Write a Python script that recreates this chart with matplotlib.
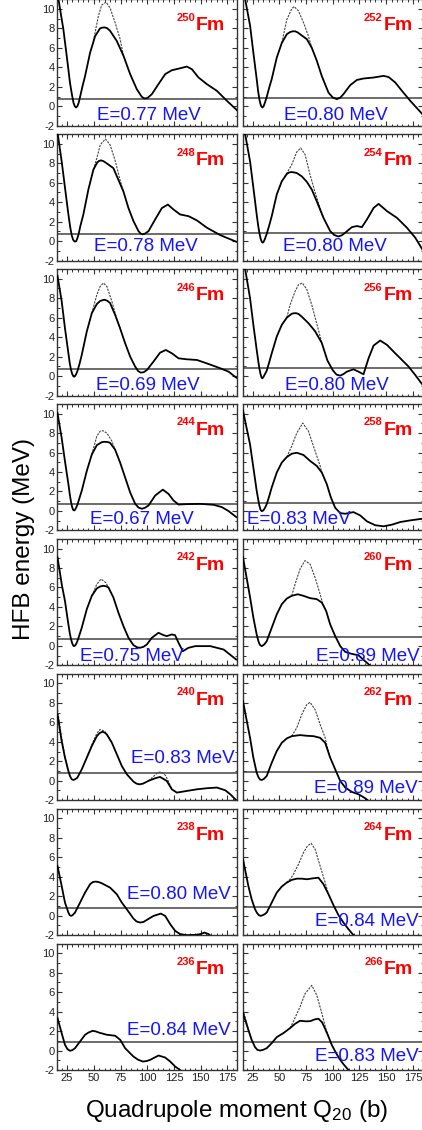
import matplotlib
matplotlib.use('Agg')
import matplotlib.pyplot as plt
from matplotlib.ticker import MultipleLocator

plt.rcParams['font.family'] = ['Liberation Sans', 'DejaVu Sans']
plt.rcParams['mathtext.default'] = 'regular'
plt.rcParams['axes.unicode_minus'] = False

############################### Data ###############################

# mass numbers, left column top to bottom, then right column
left_masses = [250, 248, 246, 244, 242, 240, 238, 236]
right_masses = [252, 254, 256, 258, 260, 262, 264, 266]

# zero point energy per nucleus (MeV)
e_zero = {250: 0.77, 248: 0.78, 246: 0.69, 244: 0.67, 242: 0.75, 240: 0.83, 238: 0.80, 236: 0.84,
          252: 0.80, 254: 0.80, 256: 0.80, 258: 0.83, 260: 0.89, 262: 0.89, 264: 0.84, 266: 0.83}

# solid curves (Q20, E) and dotted curves where they differ
fm250_q = [16, 21.5, 24.6, 27.7, 29.5, 31, 32.2, 33.3, 34.5, 35.8, 37.2, 39.5, 41.8, 46.5, 51.2, 55.8, 58, 60,
           62.5, 65.2, 71.5, 77.7, 84, 90.2, 94.9, 96.8, 98.6, 100.6, 104.3, 110.5, 116.8, 123, 130.8, 137.1,
           141.8, 148, 155.8, 165.2, 174.6, 184.6]
fm250_e = [11.6, 7.9, 5.2, 2.4, 1.2, 0.35, 0.0, -0.13, -0.02, 0.35, 1.0, 2.1, 3.1, 5.5, 7.2, 8.0, 8.08, 8.1,
           8.02, 7.75, 6.7, 5.2, 3.3, 1.75, 0.97, 0.83, 0.8, 0.88, 1.24, 2.27, 3.3, 3.7, 3.9, 4.08,
           3.8, 2.95, 2.27, 1.58, 0.55, -0.47]
fm250_qd = [49.6, 54.3, 57.4, 61.5, 65.2, 69.9, 74.6, 77.7]
fm250_ed = [6.7, 9.3, 10.4, 10.7, 10.1, 8.6, 6.9, 5.2]

fm252_q = [16, 18, 22.6, 25.7, 28.8, 30.2, 31.6, 32.9, 34.1, 35.3, 36.6, 38.2, 40.5, 42.9, 47.6, 52.3, 57, 60,
           62.5, 64.75, 67, 69.4, 75.7, 80.4, 85, 89.75, 96, 100, 103.8, 107, 110, 116.3, 122.6, 128.8, 138.2,
           147.6, 152.3, 158.5, 164.75, 172.6, 183.8]
fm252_e = [12.0, 11.0, 8.3, 5.5, 2.8, 1.5, 0.55, 0.03, -0.13, 0.0, 0.4, 0.95, 1.9, 2.8, 5.0, 6.5, 7.4, 7.62,
           7.7, 7.7, 7.6, 7.4, 6.9, 6.0, 4.7, 3.1, 1.4, 0.9, 0.73, 0.88, 1.24, 2.16, 2.7, 2.85, 2.95,
           3.12, 3.0, 2.44, 1.58, 0.55, -0.8]
fm252_qd = [52.3, 57, 61.6, 63.8, 67.9, 72.6, 77.25, 80.4]
fm252_ed = [6.5, 8.9, 10.0, 10.25, 9.8, 8.6, 7.2, 6.0]

fm248_q = [16, 19.9, 23, 26.2, 27.8, 29.3, 30.6, 31.6, 32.5, 33.5, 34.6, 35.8, 37.5, 40.2, 44.9, 49.6, 53.3,
           55, 56.8, 59, 62, 68.3, 73, 77.7, 82.4, 87.1, 91.8, 93.8, 95.8, 98, 101.2, 107.4, 113.7, 119.3,
           124.6, 130.8, 138.6, 146.5, 155.8, 168.3, 183.3]
fm248_e = [11.2, 8.2, 5.5, 2.74, 1.5, 0.6, 0.15, 0.0, -0.05, 0.0, 0.3, 0.75, 1.6, 2.74, 5.3, 7.35, 8.1,
           8.25, 8.3, 8.22, 8.0, 7.5, 6.3, 5.1, 3.4, 2.06, 1.03, 0.78, 0.7, 0.78, 1.03, 2.23, 3.4, 3.76,
           3.25, 2.74, 2.57, 2.13, 1.38, 0.62, -0.06]
fm248_qd = [49.6, 53, 56, 60.8, 65.2, 69.9, 74.5, 77.7]
fm248_ed = [7.35, 8.6, 9.9, 10.5, 9.9, 8.3, 6.3, 5.1]

fm254_q = [16, 18, 22.6, 25.7, 28.8, 30.2, 31.3, 32.5, 33.5, 34.4, 35.4, 36.6, 38.2, 40.5, 42.9, 47.6, 52.3,
           57, 59, 61, 63.5, 66.3, 71, 75.7, 80.4, 85, 91.3, 97.6, 101.5, 105.4, 108.5, 111.6, 117.9, 122.6,
           127.3, 132, 138.3, 142.9, 150.8, 160, 169.4, 177.25, 183.8]
fm254_e = [12.0, 11.0, 8.2, 5.5, 2.74, 1.6, 0.86, 0.25, -0.05, -0.16, -0.05, 0.25, 0.75, 1.6, 2.57, 4.8, 6.15,
           6.9, 7.05, 7.1, 7.07, 7.0, 6.66, 6.1, 5.3, 4.1, 2.4, 1.03, 0.62, 0.48, 0.6, 0.86, 1.44, 1.55,
           1.44, 2.23, 3.42, 3.83, 3.08, 2.4, 1.38, 0.35, -0.84]
fm254_qd = [55, 61.6, 66.3, 70, 74.1, 78.8, 83.5, 87, 91.3]
fm254_ed = [6.6, 7.86, 9.16, 9.57, 8.9, 6.8, 5.0, 3.8, 2.4]

fm246_q = [16, 19.9, 23, 26.2, 27.5, 28.7, 29.8, 30.7, 31.5, 32.4, 33.5, 34.6, 36.5, 38.7, 43.4, 48.1, 52.8,
           56, 59.6, 62.5, 65.2, 69.9, 74.6, 79.3, 84, 88.7, 91.5, 94, 96.8, 99.7, 105.8, 112, 117.4, 123,
           129.3, 137.1, 146.5, 155.8, 168.3, 176.2, 183.3]
fm246_e = [10.3, 7.7, 4.9, 2.34, 1.3, 0.62, 0.2, 0.0, -0.07, 0.0, 0.2, 0.5, 1.2, 2.17, 4.57, 6.46, 7.4,
           7.72, 7.84, 7.75, 7.5, 6.3, 4.9, 3.37, 2.0, 0.97, 0.5, 0.35, 0.4, 0.62, 1.48, 2.4, 2.68, 2.34,
           1.82, 1.72, 1.65, 1.3, 0.8, 0.45, -0.17]
fm246_qd = [48.1, 52.8, 55.9, 59, 62.2, 66.9, 71.6, 74.6]
fm246_ed = [6.46, 8.35, 9.2, 9.56, 9.2, 7.67, 5.8, 4.9]

fm256_q = [16, 18, 22.6, 25.7, 28.8, 30.2, 31.3, 32.3, 33.2, 34.1, 35.1, 36.3, 38.2, 40.5, 42.9, 47.6, 52.3,
           57, 61.6, 63.5, 65.7, 68, 71, 77.25, 83.5, 89.75, 95, 100, 103.5, 106.9, 110, 113.2, 119.4, 124.1,
           128.8, 133.5, 138.2, 144.4, 150.8, 157, 163.2, 171, 177.25, 183.8]
fm256_e = [12.0, 11.0, 8.0, 5.26, 2.7, 1.6, 0.8, 0.25, -0.1, -0.24, -0.1, 0.15, 0.55, 1.4, 2.34, 4.06, 5.26,
           6.0, 6.4, 6.45, 6.46, 6.38, 6.1, 5.43, 4.6, 3.4, 1.6, 0.6, 0.15, 0.04, 0.2, 0.45, 0.69, 0.45,
           0.18, 1.82, 3.13, 3.65, 3.2, 2.5, 1.82, 0.97, 0.1, -0.86]
fm256_qd = [57, 60, 64.75, 68, 71.6, 75.7, 80.4, 85, 89.75]
fm256_ed = [6.0, 7.3, 8.7, 9.4, 9.56, 8.9, 7.3, 5.4, 3.4]

fm244_q = [16, 19.9, 23, 26.2, 27.5, 28.7, 29.7, 30.6, 31.5, 32.4, 33.5, 34.6, 36.5, 38.7, 43.4, 48.1, 52.8,
           57.5, 59.5, 61.5, 63.3, 65.2, 69.9, 74.6, 79.3, 84, 88.7, 91.8, 94.9, 98, 101.2, 107.4, 114.6,
           119.9, 124.6, 129.3, 137.1, 149.6, 162.1, 169.9, 176.2, 183.3]
fm244_e = [10.05, 7.5, 5.1, 2.76, 1.7, 0.9, 0.4, 0.12, 0.05, 0.12, 0.35, 0.62, 1.3, 2.08, 4.1, 5.8, 6.76,
           7.07, 7.1, 7.1, 7.07, 7.0, 6.3, 4.97, 3.44, 1.9, 0.73, 0.35, 0.22, 0.33, 0.56, 1.58, 2.19,
           1.75, 1.07, 0.66, 0.7, 0.73, 0.63, 0.39, -0.02, -0.63]
fm244_qd = [48.1, 52.8, 55.9, 58.4, 62.2, 66.9, 69.9]
fm244_ed = [5.8, 7.68, 8.19, 8.25, 8.0, 7.17, 6.3]

fm258_q = [16, 22.6, 25.7, 28.8, 30.2, 31.3, 32.4, 33.5, 35, 36.5, 38.2, 40.5, 42.9, 47.6, 52.3, 57, 61.6,
           66.3, 72.6, 78.8, 85, 89.75, 94.4, 98.2, 102.3, 107, 111.7, 119.4, 125.7, 132, 139.8, 147.6, 155.4,
           163.2, 172.6, 183.8]
fm258_e = [10.3, 6.83, 4.46, 2.08, 1.2, 0.56, 0.12, -0.02, 0.05, 0.3, 0.7, 1.5, 2.42, 3.95, 4.97, 5.54, 5.88,
           5.98, 5.75, 5.14, 4.63, 3.95, 2.76, 1.4, 0.32, -0.22, -0.29, -0.12, -0.46, -1.07, -1.47, -1.58,
           -1.41, -1.14, -0.97, -0.8]
fm258_qd = [57, 61.6, 66.3, 71.9, 77.25, 83.5, 88.2, 89.75]
fm258_ed = [5.54, 6.66, 8.0, 9.03, 8.19, 6.15, 4.63, 3.95]

fm242_q = [16, 20, 23, 26.2, 27.5, 28.7, 29.8, 30.7, 31.5, 32.4, 33.5, 34.6, 36.5, 38.7, 43.4, 48.1, 52.8,
           55.8, 59, 61.5, 63.7, 68.3, 73, 77.7, 82.4, 87.1, 90.2, 93.3, 96.5, 99.6, 104.3, 110.5, 115.2,
           118.3, 123, 126, 129.3, 133.3, 138.6, 145, 159, 171.5, 183.3]
fm242_e = [9.1, 6.3, 4.6, 2.2, 1.3, 0.66, 0.25, 0.03, -0.03, 0.03, 0.2, 0.48, 1.1, 1.86, 3.76, 5.14, 5.9,
           6.1, 6.17, 6.12, 6.0, 4.97, 3.41, 2.03, 0.83, 0.07, -0.14, -0.2, -0.1, 0.14, 0.83, 1.34, 1.1,
           1.0, 1.17, 1.1, 0.31, -0.55, -0.2, -0.03, -0.03, -0.38, -1.41]
fm242_qd = [48.1, 52.8, 56.8, 61.2, 63.7]
fm242_ed = [5.14, 6.34, 6.86, 6.5, 6.0]

fm260_q = [16, 22.6, 25.7, 28.8, 30.5, 31.8, 33.5, 35.2, 36.7, 38.2, 42.9, 47.6, 52.3, 57, 61.6, 67.25, 72.6,
           78.8, 85, 89.75, 93.8, 97.6, 102.3, 107, 111.7, 117.9, 124.1, 130.4, 135.7]
fm260_e = [9.1, 5.0, 2.9, 1.17, 0.45, 0.1, -0.03, 0.08, 0.25, 0.48, 1.86, 3.24, 4.28, 4.86, 5.14, 5.3, 5.14,
           4.9, 4.8, 4.45, 3.59, 2.2, 1.0, -0.03, -0.62, -0.83, -0.97, -1.59, -2.1]
fm260_qd = [61.6, 64.75, 69.4, 74, 78.8, 83.5, 88.2, 90.5, 93.8]
fm260_ed = [5.14, 6.34, 7.9, 8.76, 8.4, 7.0, 5.3, 4.4, 3.59]

fm240_q = [16, 19.9, 23, 26.2, 27.8, 29.3, 30.8, 32.5, 34.6, 38.7, 43.4, 48.1, 52.8, 55.5, 58, 60.2, 62.2,
           66.9, 71.6, 76.2, 80.9, 87.1, 90, 92.7, 96, 101, 107.3, 112, 118.3, 123, 127.7, 137, 146.5, 155.8,
           165.2, 173, 177.7, 183.3]
fm240_e = [6.8, 4.07, 2.37, 1.0, 0.45, 0.15, 0.08, 0.15, 0.32, 1.17, 2.37, 3.56, 4.58, 4.9, 5.03, 4.95, 4.75,
           3.9, 2.7, 1.51, 0.66, -0.09, -0.3, -0.37, -0.3, -0.02, 0.25, 0.39, -0.02, -0.88, -1.22, -1.05,
           -0.88, -0.77, -0.7, -0.98, -1.39, -2.0]
fm240_qd = [16, 19.9, 23, 26.2]
fm240_ed = [7.3, 4.4, 2.5, 1.0]
fm240_qd2 = [43.4, 48.1, 52.8, 55.8, 60, 64.5, 66.9]
fm240_ed2 = [2.37, 3.7, 4.85, 5.27, 5.1, 4.4, 3.9]
fm240_qd3 = [101, 106, 110, 113, 117, 120, 123]
fm240_ed3 = [-0.02, 0.45, 0.85, 0.9, 0.55, -0.1, -0.88]

fm262_q = [16, 22.6, 25.7, 28.8, 30.5, 32, 33.5, 35.5, 38.2, 42.9, 47.6, 52.3, 57, 61.6, 69.4, 75.7, 82, 88.2,
           92.9, 97.6, 102.3, 107, 111.7, 117.9, 124.1, 130.4, 133.5]
fm262_e = [8.17, 4.41, 2.37, 0.83, 0.35, 0.12, 0.08, 0.18, 0.49, 1.85, 3.05, 3.9, 4.35, 4.58, 4.69, 4.62, 4.58,
           4.41, 3.9, 2.37, 1.17, -0.02, -0.7, -1.15, -1.39, -1.8, -2.07]
fm262_qd = [61.6, 66.3, 71, 75.7, 78.8, 83.5, 88.2, 92.9, 94.5, 97.6]
fm262_ed = [4.58, 5.44, 6.8, 7.83, 8.06, 7.3, 5.78, 4.41, 3.6, 2.37]

fm238_q = [16, 19.9, 23, 26.2, 27.4, 28.7, 30.1, 32.4, 37.1, 41.8, 46.5, 49, 51.8, 54.5, 57.4, 65.2, 71.5, 76.2,
           80.8, 87.1, 90, 93.3, 96.5, 99.6, 105.8, 112.7, 116.8, 121.5, 126.2, 130.8, 137, 144.8, 149.6, 153.6,
           157.4, 159]
fm238_e = [5.1, 3.05, 1.34, 0.32, 0.05, -0.03, 0.05, 0.32, 1.34, 2.37, 3.23, 3.45, 3.5, 3.45, 3.33, 2.88, 2.2,
           1.34, 0.66, -0.3, -0.6, -0.71, -0.65, -0.44, -0.03, 0.21, -0.03, -0.88, -1.57, -1.9, -2.0, -1.98,
           -1.9, -1.74, -1.9, -2.05]

fm264_q = [16, 21, 24.1, 27.25, 29, 30.8, 32.6, 34.5, 36.3, 38.2, 42.9, 47.6, 52.3, 57, 61.6, 66.3, 71, 75.7,
           82, 86.6, 91.3, 96, 100.7, 105.4, 110, 114.75, 119.4]
fm264_e = [5.8, 3.05, 1.68, 0.66, 0.3, 0.05, -0.03, 0.05, 0.15, 0.32, 1.34, 2.37, 2.99, 3.4, 3.67, 3.8, 3.8,
           3.74, 3.84, 3.9, 3.23, 2.2, 1.07, 0.04, -0.71, -1.4, -2.0]
fm264_qd = [57, 60.5, 63.2, 67.9, 72.6, 76.3, 79.75, 83.5, 88.2, 92.9, 96]
fm264_ed = [3.4, 3.8, 4.25, 5.28, 6.48, 7.16, 7.44, 6.82, 5.1, 3.4, 2.2]

fm236_q = [16, 19.9, 23, 25.3, 27.7, 30, 32.4, 37.1, 41.8, 45, 49, 52, 54.3, 62.2, 70, 74.7, 79.3, 87.1, 91.5,
           95.9, 99.3, 102.7, 110.6, 116.8, 121.5, 126.2, 130.8]
fm236_e = [3.34, 1.79, 0.59, 0.15, -0.03, 0.05, 0.24, 0.93, 1.62, 1.85, 2.03, 1.96, 1.86, 1.62, 1.52, 1.1,
           0.24, -0.62, -0.95, -1.13, -1.08, -0.96, -0.51, -0.72, -1.13, -1.65, -2.0]

fm266_q = [16, 21, 24.1, 27.25, 29.5, 32, 35, 38.2, 42.9, 47.6, 53.8, 60, 64.75, 69.4, 75, 79, 83, 86.6, 90,
           93, 96, 99, 102.3, 106, 110, 114.75]
fm266_e = [3.85, 2.13, 1.1, 0.35, 0.07, 0.0, 0.08, 0.24, 0.76, 1.38, 1.79, 2.3, 2.75, 3.06, 3.0, 3.02, 3.2,
           3.27, 2.9, 2.2, 1.44, 0.6, -0.1, -0.8, -1.4, -2.0]
fm266_qd = [16, 19, 22, 24.1]
fm266_ed = [4.2, 3.0, 1.8, 1.1]
fm266_qd2 = [60, 63.2, 69.4, 74.1, 80.4, 85, 89.75, 93.8, 96]
fm266_ed2 = [2.3, 3.0, 4.5, 5.85, 6.7, 5.7, 3.85, 2.13, 1.44]

solid = {250: (fm250_q, fm250_e), 252: (fm252_q, fm252_e), 248: (fm248_q, fm248_e), 254: (fm254_q, fm254_e),
         246: (fm246_q, fm246_e), 256: (fm256_q, fm256_e), 244: (fm244_q, fm244_e), 258: (fm258_q, fm258_e),
         242: (fm242_q, fm242_e), 260: (fm260_q, fm260_e), 240: (fm240_q, fm240_e), 262: (fm262_q, fm262_e),
         238: (fm238_q, fm238_e), 264: (fm264_q, fm264_e), 236: (fm236_q, fm236_e), 266: (fm266_q, fm266_e)}

dotted = {250: [(fm250_qd, fm250_ed)], 252: [(fm252_qd, fm252_ed)], 248: [(fm248_qd, fm248_ed)],
          254: [(fm254_qd, fm254_ed)], 246: [(fm246_qd, fm246_ed)], 256: [(fm256_qd, fm256_ed)],
          244: [(fm244_qd, fm244_ed)], 258: [(fm258_qd, fm258_ed)], 242: [(fm242_qd, fm242_ed)],
          260: [(fm260_qd, fm260_ed)],
          240: [(fm240_qd, fm240_ed), (fm240_qd2, fm240_ed2), (fm240_qd3, fm240_ed3)],
          262: [(fm262_qd, fm262_ed)], 238: [], 264: [(fm264_qd, fm264_ed)], 236: [],
          266: [(fm266_qd, fm266_ed), (fm266_qd2, fm266_ed2)]}

# where the E=... label sits (data coords, centre)
e_label_pos = {250: (101.6, -0.95), 252: (103, -0.95), 248: (98.3, -0.6), 254: (102.3, -0.6),
               246: (100.6, -0.96), 256: (103.5, -0.96), 244: (95, -0.9), 258: (68.2, -0.9),
               242: (85.5, -1.1), 260: (132.5, -1.1), 240: (133.4, 2.3), 262: (131, -0.78),
               238: (129.7, 2.13), 264: (132.3, -0.58), 236: (129.3, 2.03), 266: (132, -0.58)}

############################### Drawing ###############################

W, H = 422, 1130
fig = plt.figure(figsize=(W / 100, H / 100), dpi=100)

def panel(ax, mass, col, row):
    q, e = solid[mass]
    for qd, ed in dotted[mass]:
        ax.plot(qd, ed, color='#444444', lw=0.8, linestyle=(0, (2, 1)), zorder=2)
    ax.plot(q, e, color='black', lw=1.3, zorder=3, solid_joinstyle='round')
    ax.axhline(e_zero[mass], color='#444444', lw=1.1, zorder=1)

    ax.set_xlim(16, 184)
    ax.set_ylim(-2, 11)
    ax.xaxis.set_major_locator(MultipleLocator(25))
    ax.xaxis.set_minor_locator(MultipleLocator(5))
    ax.yaxis.set_major_locator(MultipleLocator(2))
    ax.yaxis.set_minor_locator(MultipleLocator(1))
    ax.tick_params(which='both', direction='in', top=True, right=True, colors='#333333',
                   labelsize=8, labelcolor='#222222', pad=2)
    ax.tick_params(which='major', length=3.5, width=0.8)
    ax.tick_params(which='minor', length=1.8, width=0.7)
    for s in ax.spines.values():
        s.set_color('#333333')
        s.set_linewidth(1.0)
    if col == 1:
        ax.tick_params(labelleft=False)
    if row != 7:
        ax.tick_params(labelbottom=False)

    # nucleus label
    xr = 0.935 if col == 0 else 0.945
    fm = ax.text(xr, 0.755, 'Fm', transform=ax.transAxes, ha='right', va='baseline',
                 fontsize=14, fontweight='bold', color='#ff0000')
    ax.annotate(str(mass), xy=(0, 1), xycoords=fm, xytext=(-0.5, 3.2), textcoords='offset points',
                ha='right', va='top', fontsize=8, fontweight='bold', color='#ff0000')

    ex, ey = e_label_pos[mass]
    ax.text(ex, ey, 'E=%.2f MeV' % e_zero[mass], ha='center', va='center',
            fontsize=13.5, color='#1414ff', zorder=4)

left0, right0, width = 57.5 / W, 243 / W, 179.5 / W
ph, pitch, last_bottom = 126.5, 134.9, 1070
for row in range(8):
    bottom_px = last_bottom - (7 - row) * pitch
    y0 = 1 - bottom_px / H
    for col, masses in enumerate([left_masses, right_masses]):
        x0 = left0 if col == 0 else right0
        ax = fig.add_axes([x0, y0, width, ph / H])
        panel(ax, masses[row], col, row)

fig.text(24 / W, 1 - 539 / H, 'HFB energy (MeV)', rotation=90, ha='center', va='center', fontsize=17.5)
fig.text(236.5 / W, 1 - 1117 / H, 'Quadrupole moment Q$_{20}$ (b)', ha='center', va='baseline', fontsize=17.5)

fig.savefig('out.png', dpi=100)
